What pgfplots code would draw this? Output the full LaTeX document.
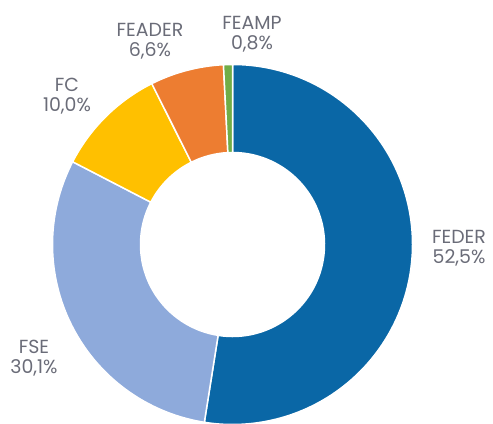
\documentclass[border=0pt]{standalone}
\usepackage{pgfplots}
\pgfplotsset{compat=1.18}
\usepackage{fontspec}
\setmainfont{Poppins}
\definecolor{cFEDER}{HTML}{0A67A6}
\definecolor{cFSE}{HTML}{8EAADB}
\definecolor{cFC}{HTML}{FFC000}
\definecolor{cFEADER}{HTML}{ED7D31}
\definecolor{cFEAMP}{HTML}{70AD47}
\definecolor{labelgray}{HTML}{6A6C78}
\newcommand{\sector}[3]{%
  \fill[#3, draw=white, line width=1.5bp, line join=round]
    (axis cs:232.5,179.5) ++(#1:180bp) arc[start angle=#1, end angle=#2, radius=180bp]
    -- ++(#2+180:88bp) arc[start angle=#2, end angle=#1, radius=92bp] -- cycle;}
\begin{document}
\begin{tikzpicture}
% shares (percent), clockwise from the top
\pgfmathsetmacro{\aA}{90}
\pgfmathsetmacro{\aB}{\aA-52.5*3.6}% FEDER
\pgfmathsetmacro{\aC}{\aB-30.1*3.6}% FSE
\pgfmathsetmacro{\aD}{\aC-10.0*3.6}% FC
\pgfmathsetmacro{\aE}{\aD-6.6*3.6}% FEADER
\pgfmathsetmacro{\aF}{\aE-0.8*3.6}% FEAMP
\begin{axis}[width=493bp,height=424bp,scale only axis,hide axis,
  xmin=0,xmax=493,ymin=0,ymax=424,clip=false]
\sector{\aA}{\aB}{cFEDER}
\sector{\aB}{\aC}{cFSE}
\sector{\aC}{\aD}{cFC}
\sector{\aD}{\aE}{cFEADER}
\sector{\aE}{\aF}{cFEAMP}
\tikzset{lbl/.style={align=center, text=labelgray, inner sep=0pt, font=\fontsize{19}{20.5}\selectfont}}
\node[lbl] at (axis cs:459,176) {FEDER\\52,5\%};
\node[lbl] at (axis cs:34,66) {FSE\\30,1\%};
\node[lbl] at (axis cs:67,328) {FC\\10,0\%};
\node[lbl] at (axis cs:150,383) {FEADER\\6,6\%};
\node[lbl] at (axis cs:252,390) {FEAMP\\0,8\%};
\end{axis}
\pgfresetboundingbox
\path (current axis.south west) rectangle (current axis.north east);
\end{tikzpicture}
\end{document}
